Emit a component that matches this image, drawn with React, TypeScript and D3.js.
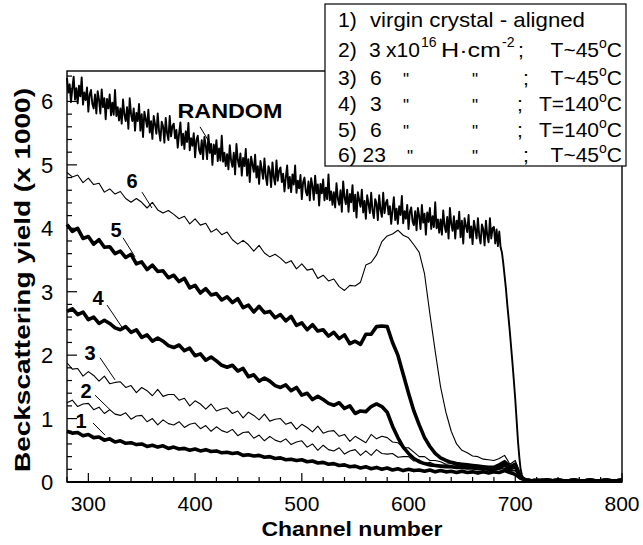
import React from "react";
import * as d3 from "d3";

const WIDTH = 643;
const HEIGHT = 545;

// Axis ranges: channel number and backscattering yield (x 1000)
const channelDomain: [number, number] = [280, 800];
const yieldDomain: [number, number] = [0, 6.48];
const xTickLabels = [300, 400, 500, 600, 700, 800];
const yTickLabels = [0, 1, 2, 3, 4, 5, 6];

// Random spectrum, every 1.25 channels from channel 280 (one row = 25 channels)
const randomYield = [
  6.37, 6.14, 6.27, 5.99, 6.21, 6.39, 6.03, 6.21, 5.97, 6.25, 6.08, 6.38, 5.95, 6.14, 6.02, 6.22, 5.84, 6.11, 6.18, 5.96,
  5.89, 6.11, 5.81, 6.16, 6.03, 5.81, 6.19, 5.91, 6.05, 5.72, 6.04, 5.89, 6.11, 5.78, 5.98, 5.79, 6.18, 5.77, 5.91, 5.7,
  5.89, 5.65, 6.03, 5.79, 5.69, 5.91, 5.57, 6.05, 5.8, 5.69, 5.89, 5.54, 5.82, 5.69, 5.96, 5.54, 5.8, 5.44, 5.84, 5.72,
  5.6, 5.87, 5.51, 5.69, 5.41, 5.77, 5.64, 5.49, 5.81, 5.53, 5.38, 5.68, 5.61, 5.35, 5.74, 5.5, 5.39, 5.77, 5.45, 5.61,
  5.65, 5.42, 5.55, 5.27, 5.49, 5.67, 5.31, 5.49, 5.25, 5.53, 5.36, 5.66, 5.23, 5.42, 5.3, 5.5, 5.12, 5.39, 5.46, 5.24,
  5.17, 5.39, 5.09, 5.44, 5.31, 5.09, 5.47, 5.19, 5.33, 5.0, 5.32, 5.17, 5.39, 5.06, 5.26, 5.07, 5.46, 5.05, 5.19, 4.98,
  5.17, 4.93, 5.31, 5.07, 4.97, 5.19, 4.85, 5.33, 5.08, 4.97, 5.18, 4.83, 5.11, 4.98, 5.25, 4.83, 5.09, 4.73, 5.13, 5.01,
  4.89, 5.16, 4.8, 4.98, 4.7, 5.06, 4.93, 4.78, 5.1, 4.82, 4.68, 4.98, 4.91, 4.65, 5.04, 4.8, 4.69, 5.07, 4.75, 4.91,
  4.96, 4.73, 4.86, 4.58, 4.8, 4.99, 4.63, 4.81, 4.57, 4.85, 4.69, 4.99, 4.56, 4.75, 4.63, 4.84, 4.46, 4.73, 4.8, 4.58,
  4.52, 4.74, 4.44, 4.79, 4.66, 4.45, 4.83, 4.55, 4.69, 4.36, 4.7, 4.55, 4.77, 4.44, 4.64, 4.46, 4.85, 4.44, 4.58, 4.37,
  4.57, 4.33, 4.71, 4.47, 4.37, 4.6, 4.26, 4.74, 4.49, 4.38, 4.61, 4.26, 4.54, 4.41, 4.68, 4.27, 4.53, 4.17, 4.57, 4.45,
  4.34, 4.61, 4.25, 4.43, 4.15, 4.52, 4.39, 4.24, 4.56, 4.28, 4.16, 4.46, 4.39, 4.13, 4.52, 4.29, 4.18, 4.56, 4.24, 4.4,
  4.45, 4.22, 4.35, 4.07, 4.29, 4.49, 4.13, 4.31, 4.07, 4.35, 4.21, 4.51, 4.08, 4.27, 4.15, 4.37, 3.99, 4.26, 4.33, 4.11,
  4.05, 4.27, 3.97, 4.32, 4.19, 3.99, 4.37, 4.09, 4.23, 3.9, 4.25, 4.1, 4.32, 3.99, 4.19, 4.02, 4.41, 4.0, 4.14, 3.93,
  4.14, 3.9, 4.28, 4.04, 3.94, 4.18, 3.84, 4.32, 4.07, 3.96, 4.19, 3.84, 4.12, 3.99, 4.26, 3.86, 4.12, 3.76, 4.16, 4.04,
  3.94, 4.21, 3.85, 4.03, 3.75, 4.12, 3.99, 3.84, 4.16, 3.88, 3.76, 4.06, 3.99, 3.73, 4.12, 3.89, 3.78, 4.16, 3.84, 4.0,
  4.02, 3.76, 3.98, 3.72, 3.95, 3.7, 3.62, 3.45, 3.25, 3.05, 2.8, 2.58, 2.35, 2.1, 1.85, 1.58, 1.3, 0.98, 0.65, 0.4,
  0.2, 0.11, 0.06, 0.05, 0.04, 0.03, 0.04, 0.03, 0.03, 0.02, 0.04, 0.03, 0.02, 0.03, 0.02, 0.03, 0.02, 0.03, 0.02, 0.03,
];

// Aligned spectra 1-6, every 5 channels from channel 280 to 725
const yield1 = [
  0.8, 0.77, 0.78, 0.73, 0.75, 0.7, 0.71, 0.66, 0.68, 0.63,
  0.65, 0.61, 0.62, 0.59, 0.6, 0.56, 0.58, 0.55, 0.57, 0.53,
  0.55, 0.52, 0.53, 0.5, 0.52, 0.49, 0.51, 0.48, 0.49, 0.46,
  0.47, 0.45, 0.46, 0.42, 0.43, 0.41, 0.42, 0.39, 0.4, 0.37,
  0.38, 0.35, 0.36, 0.34, 0.35, 0.32, 0.33, 0.3, 0.31, 0.28,
  0.29, 0.26, 0.27, 0.24, 0.25, 0.22, 0.24, 0.21, 0.23, 0.2,
  0.22, 0.19, 0.21, 0.18, 0.2, 0.18, 0.19, 0.17, 0.19, 0.16,
  0.18, 0.16, 0.17, 0.15, 0.17, 0.15, 0.16, 0.14, 0.16, 0.14,
  0.16, 0.15, 0.18, 0.15, 0.12, 0.06, 0.03, 0.02, 0.02, 0.02,
];
const yield2 = [
  1.25, 1.29, 1.19, 1.23, 1.24, 1.14, 1.18, 1.08, 1.14, 1.07,
  1.05, 1.09, 0.99, 1.04, 1.05, 0.95, 1.0, 0.9, 0.98, 0.92,
  0.9, 0.95, 0.86, 0.91, 0.93, 0.84, 0.89, 0.8, 0.87, 0.81,
  0.78, 0.83, 0.73, 0.78, 0.79, 0.69, 0.74, 0.65, 0.72, 0.66,
  0.63, 0.68, 0.59, 0.63, 0.65, 0.55, 0.6, 0.5, 0.58, 0.51,
  0.49, 0.54, 0.44, 0.49, 0.51, 0.42, 0.49, 0.42, 0.51, 0.45,
  0.44, 0.45, 0.39, 0.4, 0.4, 0.33, 0.35, 0.28, 0.31, 0.27,
  0.26, 0.27, 0.24, 0.25, 0.24, 0.22, 0.23, 0.2, 0.22, 0.2,
  0.19, 0.2, 0.21, 0.17, 0.18, 0.05, 0.03, 0.02, 0.02, 0.03,
];
const yield3 = [
  1.88, 1.78, 1.79, 1.67, 1.74, 1.68, 1.59, 1.67, 1.55, 1.57,
  1.58, 1.49, 1.52, 1.41, 1.49, 1.44, 1.36, 1.46, 1.35, 1.38,
  1.38, 1.29, 1.32, 1.2, 1.28, 1.23, 1.15, 1.23, 1.12, 1.15,
  1.17, 1.08, 1.12, 1.01, 1.1, 1.05, 0.98, 1.07, 0.96, 0.99,
  1.0, 0.91, 0.94, 0.83, 0.91, 0.86, 0.79, 0.88, 0.77, 0.8,
  0.81, 0.72, 0.75, 0.64, 0.72, 0.67, 0.62, 0.75, 0.68, 0.72,
  0.7, 0.63, 0.62, 0.54, 0.54, 0.47, 0.4, 0.4, 0.34, 0.34,
  0.32, 0.28, 0.29, 0.26, 0.27, 0.25, 0.23, 0.24, 0.22, 0.21,
  0.2, 0.21, 0.22, 0.18, 0.19, 0.06, 0.03, 0.02, 0.03, 0.02,
];
const yield4 = [
  2.69, 2.73, 2.64, 2.68, 2.56, 2.6, 2.5, 2.55, 2.5, 2.43,
  2.4, 2.45, 2.36, 2.4, 2.28, 2.32, 2.22, 2.27, 2.22, 2.15,
  2.12, 2.16, 2.07, 2.11, 1.99, 2.02, 1.92, 1.97, 1.91, 1.84,
  1.81, 1.84, 1.75, 1.79, 1.66, 1.69, 1.59, 1.64, 1.59, 1.52,
  1.49, 1.53, 1.44, 1.49, 1.37, 1.4, 1.3, 1.35, 1.3, 1.24,
  1.21, 1.25, 1.16, 1.2, 1.08, 1.12, 1.11, 1.19, 1.23, 1.19,
  1.1, 0.88, 0.7, 0.55, 0.45, 0.37, 0.32, 0.29, 0.27, 0.26,
  0.25, 0.24, 0.24, 0.23, 0.23, 0.22, 0.22, 0.21, 0.21, 0.2,
  0.2, 0.22, 0.27, 0.2, 0.25, 0.07, 0.03, 0.02, 0.02, 0.03,
];
const yield5 = [
  4.06, 3.95, 4.0, 3.84, 3.87, 3.75, 3.82, 3.7, 3.71, 3.6,
  3.64, 3.54, 3.59, 3.44, 3.47, 3.35, 3.42, 3.32, 3.33, 3.22,
  3.26, 3.16, 3.21, 3.06, 3.1, 2.98, 3.05, 2.95, 2.97, 2.87,
  2.92, 2.83, 2.89, 2.75, 2.79, 2.68, 2.77, 2.67, 2.69, 2.59,
  2.64, 2.54, 2.61, 2.47, 2.51, 2.4, 2.48, 2.38, 2.4, 2.3,
  2.36, 2.26, 2.32, 2.18, 2.22, 2.17, 2.33, 2.33, 2.45, 2.46,
  2.45, 2.2, 2.0, 1.7, 1.4, 1.12, 0.9, 0.7, 0.56, 0.45,
  0.38, 0.34, 0.31, 0.29, 0.28, 0.27, 0.26, 0.25, 0.24, 0.23,
  0.23, 0.27, 0.32, 0.24, 0.28, 0.08, 0.03, 0.02, 0.03, 0.02,
];
const yield6 = [
  4.88, 4.81, 4.84, 4.72, 4.79, 4.69, 4.71, 4.57, 4.62, 4.54,
  4.58, 4.47, 4.41, 4.47, 4.41, 4.32, 4.41, 4.29, 4.24, 4.28,
  4.22, 4.15, 4.19, 4.07, 4.15, 4.05, 4.08, 3.94, 3.99, 3.9,
  3.94, 3.82, 3.75, 3.81, 3.74, 3.64, 3.73, 3.61, 3.55, 3.59,
  3.53, 3.45, 3.49, 3.36, 3.44, 3.34, 3.36, 3.21, 3.26, 3.17,
  3.2, 3.08, 3.02, 3.1, 3.09, 3.15, 3.42, 3.46, 3.58, 3.79,
  3.88, 3.91, 3.97, 3.89, 3.85, 3.74, 3.62, 3.28, 2.65, 2.06,
  1.5, 1.1, 0.8, 0.6, 0.5, 0.46, 0.41, 0.4, 0.36, 0.35,
  0.34, 0.37, 0.42, 0.28, 0.34, 0.1, 0.03, 0.03, 0.02, 0.03,
];

// Common background beyond the crystal surface edge, every 5 channels from 730
const tailYield = [0.03, 0.02, 0.03, 0.02, 0.02, 0.03, 0.02, 0.02, 0.03, 0.02, 0.02, 0.03, 0.02, 0.02, 0.03];

type Spectrum = { id: string; values: number[]; start: number; step: number; width: number };

const spectra: Spectrum[] = [
  { id: "random", values: randomYield, start: 280, step: 1.25, width: 1.9 },
  { id: "s6", values: yield6, start: 280, step: 5, width: 1.1 },
  { id: "s5", values: yield5, start: 280, step: 5, width: 3.6 },
  { id: "s4", values: yield4, start: 280, step: 5, width: 3.6 },
  { id: "s3", values: yield3, start: 280, step: 5, width: 1.1 },
  { id: "s2", values: yield2, start: 280, step: 5, width: 1.1 },
  { id: "s1", values: yield1, start: 280, step: 5, width: 3.6 },
];

// Curve labels with leader lines, in data coordinates (channel, yield)
const curveLabels = [
  { text: "RANDOM", at: [432.7, 5.74], from: [404.6, 5.6], to: [414.0, 5.34], size: 21 },
  { text: "6", at: [340.9, 4.64], from: [350.3, 4.57], to: [359.6, 4.32], size: 20 },
  { text: "5", at: [325.9, 3.86], from: [332.5, 3.85], to: [343.7, 3.55], size: 20 },
  { text: "4", at: [309.0, 2.79], from: [317.5, 2.79], to: [331.5, 2.44], size: 20 },
  { text: "3", at: [301.5, 1.92], from: [310.9, 1.96], to: [325.0, 1.61], size: 20 },
  { text: "2", at: [297.8, 1.32], from: [306.2, 1.37], to: [320.3, 1.14], size: 20 },
  { text: "1", at: [293.1, 0.85], from: [304.4, 0.93], to: [315.6, 0.74], size: 20 },
];

const FONT = "'Liberation Sans', Arial, Helvetica, sans-serif";

export default function App() {
  const left = 67;
  const right = 622;
  const top = 71;
  const bottom = 482;

  const x = d3.scaleLinear().domain(channelDomain).range([left, right]);
  const y = d3.scaleLinear().domain(yieldDomain).range([bottom, top]);

  const line = d3
    .line<[number, number]>()
    .x((d) => x(d[0]))
    .y((d) => y(d[1]));

  const toPoints = (values: number[], start: number, step: number): [number, number][] =>
    values.map((v, i) => [start + i * step, v] as [number, number]);

  const tailPoints = toPoints(tailYield, 730, 5);

  const xMinor = d3.range(280, 801, 20).filter((c) => c % 100 !== 0);
  const yMinor = d3.range(0, 6.41, 0.2).filter((v) => Math.abs(v - Math.round(v)) > 1e-6);

  const sup = { fontSize: 14 };

  return (
    <svg
      width={WIDTH}
      height={HEIGHT}
      viewBox={`0 0 ${WIDTH} ${HEIGHT}`}
      style={{ position: "absolute", left: 0, top: 0, background: "#fff", display: "block" }}
      fontFamily={FONT}
    >
      <rect x={0} y={0} width={WIDTH} height={HEIGHT} fill="#fff" />

      {/* spectra */}
      <g fill="none" stroke="#000" strokeLinejoin="round">
        {spectra.map((s) => (
          <path
            key={s.id}
            d={line(toPoints(s.values, s.start, s.step).concat(tailPoints)) || ""}
            strokeWidth={s.width}
          />
        ))}
      </g>

      {/* frame */}
      <rect x={left} y={top} width={right - left} height={bottom - top} fill="none" stroke="#000" strokeWidth={1.4} />
      <line x1={left} x2={right} y1={bottom} y2={bottom} stroke="#000" strokeWidth={2} />

      {/* ticks */}
      <g stroke="#000" strokeWidth={1.2}>
        {xTickLabels.map((c) => (
          <line key={`xM${c}`} x1={x(c)} x2={x(c)} y1={bottom} y2={bottom - 9} />
        ))}
        {xMinor.map((c) => (
          <line key={`xm${c}`} x1={x(c)} x2={x(c)} y1={bottom} y2={bottom - 5} />
        ))}
        {yTickLabels.map((v) => (
          <line key={`yM${v}`} x1={left} x2={left + 10} y1={y(v)} y2={y(v)} />
        ))}
        {yMinor.map((v) => (
          <line key={`ym${v.toFixed(1)}`} x1={left} x2={left + 5} y1={y(v)} y2={y(v)} />
        ))}
      </g>

      {/* tick labels */}
      <g fontSize={21} fill="#000">
        {xTickLabels.map((c) => (
          <text key={`xl${c}`} x={x(c)} y={511} textAnchor="middle">
            {c}
          </text>
        ))}
        {yTickLabels.map((v) => (
          <text key={`yl${v}`} x={47} y={y(v) + 8} textAnchor="middle" fontSize={22}>
            {v}
          </text>
        ))}
      </g>

      {/* axis titles */}
      <text x={352} y={536} textAnchor="middle" fontSize={21} fontWeight="bold" textLength={181} lengthAdjust="spacingAndGlyphs">
        Channel number
      </text>
      <text
        transform="translate(30,280) rotate(-90)"
        textAnchor="middle"
        fontSize={22}
        fontWeight="bold"
        textLength={384}
        lengthAdjust="spacingAndGlyphs"
      >
        Beckscattering yield (x 1000)
      </text>

      {/* curve labels */}
      <g fontWeight="bold" fill="#000">
        {curveLabels.map((l) => (
          <g key={l.text}>
            <text
              x={x(l.at[0])}
              y={y(l.at[1])}
              textAnchor="middle"
              fontSize={l.size}
              textLength={l.text.length > 1 ? 105 : undefined}
              lengthAdjust="spacingAndGlyphs"
            >
              {l.text}
            </text>
            <line
              x1={x(l.from[0])}
              y1={y(l.from[1])}
              x2={x(l.to[0])}
              y2={y(l.to[1])}
              stroke="#000"
              strokeWidth={1}
            />
          </g>
        ))}
      </g>

      {/* legend */}
      <g fontSize={21} fill="#000">
        <rect x={325} y={4} width={301} height={162} fill="#fff" stroke="#000" strokeWidth={1.2} />
        <text x={338} y={27}>1)</text>
        <text x={370} y={27} textLength={215} lengthAdjust="spacingAndGlyphs">virgin crystal - aligned</text>

        <text x={338} y={57}>2)</text>
        <text x={369} y={57}>3</text>
        <text x={386} y={57}>x10</text>
        <text x={421} y={47} {...sup}>16</text>
        <text x={441} y={57} textLength={60} lengthAdjust="spacingAndGlyphs">H·cm</text>
        <text x={502} y={47} {...sup}>-2</text>
        <text x={518} y={57}>;</text>
        <text x={622} y={57} textAnchor="end">
          T~45<tspan dy={-9} {...sup}>o</tspan><tspan dy={9}>C</tspan>
        </text>

        <text x={338} y={85}>3)</text>
        <text x={370} y={85}>6</text>
        <text x={403} y={85} fontSize={17}>"</text>
        <text x={472} y={85} fontSize={17}>"</text>
        <text x={523} y={85}>;</text>
        <text x={622} y={85} textAnchor="end">
          T~45<tspan dy={-9} {...sup}>o</tspan><tspan dy={9}>C</tspan>
        </text>

        <text x={338} y={111}>4)</text>
        <text x={370} y={111}>3</text>
        <text x={403} y={111} fontSize={17}>"</text>
        <text x={472} y={111} fontSize={17}>"</text>
        <text x={517} y={111}>;</text>
        <text x={622} y={111} textAnchor="end">
          T=140<tspan dy={-9} {...sup}>o</tspan><tspan dy={9}>C</tspan>
        </text>

        <text x={338} y={137}>5)</text>
        <text x={370} y={137}>6</text>
        <text x={403} y={137} fontSize={17}>"</text>
        <text x={472} y={137} fontSize={17}>"</text>
        <text x={517} y={137}>;</text>
        <text x={622} y={137} textAnchor="end">
          T=140<tspan dy={-9} {...sup}>o</tspan><tspan dy={9}>C</tspan>
        </text>

        <text x={338} y={162}>6) 23</text>
        <text x={407} y={162} fontSize={17}>"</text>
        <text x={472} y={162} fontSize={17}>"</text>
        <text x={523} y={162}>;</text>
        <text x={622} y={162} textAnchor="end">
          T~45<tspan dy={-9} {...sup}>o</tspan><tspan dy={9}>C</tspan>
        </text>
      </g>
    </svg>
  );
}
